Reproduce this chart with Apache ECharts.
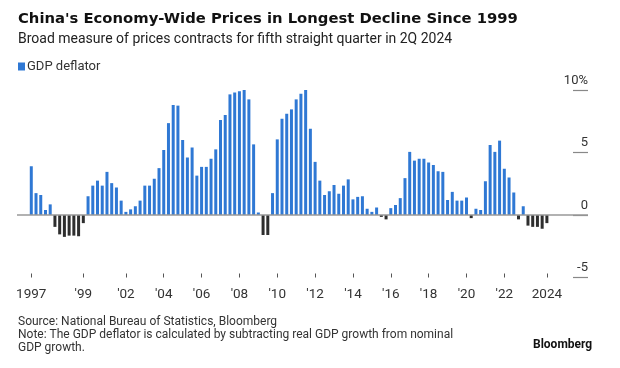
<!DOCTYPE html>
<html>
<head>
<meta charset="utf-8">
<script src="https://cdn.jsdelivr.net/npm/echarts@6/dist/echarts.min.js"></script>
<style>
html,body{margin:0;padding:0;background:#fff;}
#chart{width:620px;height:368px;}
</style>
</head>
<body>
<div id="chart"></div>
<script>
// Quarterly GDP deflator (% YoY), 1997Q1 .. 2024Q2
var quarters = [];
for (var y = 1997; y <= 2024; y++) {
  for (var q = 1; q <= 4; q++) {
    if (y === 2024 && q > 2) break;
    quarters.push(y + 'Q' + q);
  }
}
var deflator = [
  3.9, 1.75, 1.6, 0.4, 0.85, -0.95, -1.55, -1.75, -1.65, -1.65, -1.7, -0.65,
  1.5, 2.35, 2.75, 2.35, 3.45, 2.55, 2.2, 1.15, 0.25, 0.45, 0.7, 1.15,
  2.35, 2.35, 2.9, 3.75, 5.2, 7.35, 8.8, 8.75, 6.0, 4.6, 5.4, 3.15,
  3.85, 3.85, 4.5, 5.25, 7.6, 8.0, 9.65, 9.8, 9.9, 10.65, 9.25, 5.65,
  0.2, -1.6, -1.6, 1.75, 6.05, 7.7, 8.1, 8.45, 9.25, 9.7, 10.1, 6.9,
  4.25, 2.75, 1.6, 1.9, 2.4, 1.7, 2.35, 2.85, 1.25, 1.45, 1.5, 0.5,
  0.25, 0.6, -0.15, -0.35, 0.55, 0.8, 1.35, 2.95, 5.05, 4.35, 4.5, 4.5,
  4.2, 4.0, 3.5, 3.45, 1.2, 1.85, 1.15, 1.15, 1.4, -0.25, 0.5, 0.4,
  2.7, 5.6, 5.05, 5.95, 3.7, 3.0, 1.8, -0.35, 0.7, -0.85, -0.95, -0.95,
  -1.1, -0.65
];
var xTickIndex = [0, 11, 20, 28, 36, 44, 52, 60, 68, 76, 84, 92, 100, 109];
var xTickLabels = ['1997', "'99", "'02", "'04", "'06", "'08", "'10", "'12", "'14", "'16", "'18", "'20", "'22", '2024'];

var chart = echarts.init(document.getElementById('chart'));
var barData = deflator.map(function (v, i) {
  var item = { value: [i, v] };
  if (v < 0) item.itemStyle = { color: '#2e2e2e' };
  return item;
});
var labelMap = {};
xTickIndex.forEach(function (idx, k) { labelMap[idx] = xTickLabels[k]; });

var FONT = 'Roboto, "Noto Sans", sans-serif';
chart.setOption({
  animation: false,
  title: [
    { text: "China's Economy-Wide Prices in Longest Decline Since 1999", left: 13, top: 7,
      textStyle: { fontFamily: '"DejaVu Sans", sans-serif', fontWeight: 'bold', fontSize: 14.8, color: '#111' } },
    { text: 'Broad measure of prices contracts for fifth straight quarter in 2Q 2024', left: 13, top: 27,
      textStyle: { fontFamily: FONT, fontWeight: 'normal', fontSize: 14, color: '#222' } },
    { text: 'Source: National Bureau of Statistics, Bloomberg\nNote: The GDP deflator is calculated by subtracting real GDP growth from nominal\nGDP growth.',
      left: 13, top: 310,
      textStyle: { fontFamily: FONT, fontWeight: 'normal', fontSize: 12, lineHeight: 13.2, color: '#333' } },
    { text: 'Bloomberg', left: 528, top: 334,
      textStyle: { fontFamily: FONT, fontWeight: 'bold', fontSize: 12, color: '#111' } }
  ],
  legend: {
    left: 13, top: 55, icon: 'rect', itemWidth: 7, itemHeight: 8, itemGap: 10,
    textStyle: { fontFamily: FONT, fontSize: 13, color: '#333', padding: [0, 0, 0, -3] },
    data: ['GDP deflator']
  },
  grid: { left: 17, right: 32, top: 90, bottom: 90.5 },
  xAxis: {
    type: 'value', min: -3.02, max: 117.69,
    splitLine: { show: false },
    axisLine: { show: false, onZero: false },
    axisTick: { show: true, inside: true, length: 4, customValues: xTickIndex, lineStyle: { color: '#555', width: 1 } },
    axisLabel: {
      customValues: xTickIndex, margin: 10,
      formatter: function (v) { return labelMap[Math.round(v)] || ''; },
      fontFamily: FONT, fontSize: 13.5, color: '#333'
    }
  },
  yAxis: {
    type: 'value', position: 'right', offset: -15, min: -5, max: 10, interval: 5,
    splitLine: { show: false },
    axisLine: { show: false, onZero: false },
    axisTick: { show: true, inside: false, length: 15, lineStyle: { color: '#888', width: 1.2 } },
    axisLabel: {
      inside: false, margin: 15, align: 'right', verticalAlign: 'bottom', padding: [0, 0, 3, 0],
      formatter: function (v) { return v === 10 ? '10%' : String(v); },
      fontFamily: FONT, fontSize: 13, color: '#333'
    }
  },
  series: [{
    name: 'GDP deflator', type: 'bar', barWidth: 3,
    itemStyle: { color: '#2f78d4' },
    data: barData,
    markLine: {
      silent: true, symbol: 'none', label: { show: false },
      lineStyle: { color: '#999', width: 1.5, type: 'solid' },
      data: [{ yAxis: 0 }]
    }
  }]
});
</script>
</body>
</html>
